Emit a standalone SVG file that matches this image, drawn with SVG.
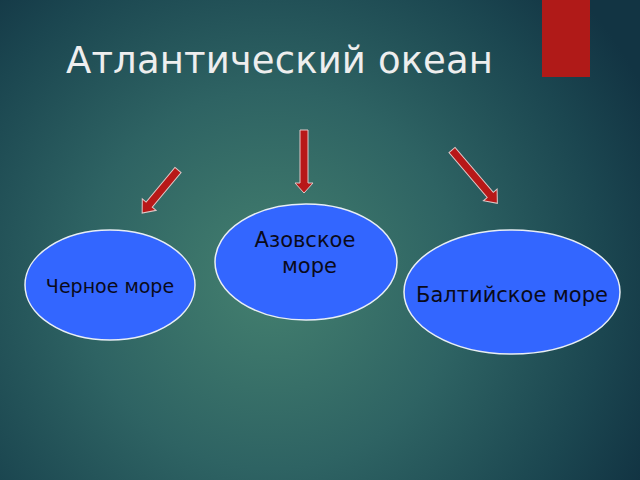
<svg xmlns="http://www.w3.org/2000/svg" width="640" height="480" viewBox="0 0 640 480">
<defs>
<radialGradient id="bg" cx="270" cy="280" r="420" gradientUnits="userSpaceOnUse">
<stop offset="0" stop-color="#44806f"/>
<stop offset="0.45" stop-color="#2e6363"/>
<stop offset="0.8" stop-color="#1b4650"/>
<stop offset="1" stop-color="#123443"/>
</radialGradient>
<style>
.node ellipse{fill:#3366ff;stroke:#e8eef5;stroke-width:1.5}
.lbl{font-family:"DejaVu Sans",sans-serif;fill:#0a0a1a;text-anchor:middle}
.arr{fill:#b81818;stroke:#e0c8c8;stroke-width:1}
</style>
</defs>
<rect width="640" height="480" fill="url(#bg)"/>
<rect x="542" y="0" width="48" height="77" fill="#b01a18"/>
<text x="66" y="73" font-family="'DejaVu Sans',sans-serif" font-size="37" fill="#eeeeee" textLength="427">Атлантический океан</text>
<g id="connectors">
<polygon class="arr" points="300,130 308,130 308,183 313,183 304,193 295,183 300,183"/>
<g transform="translate(178,170) rotate(39.8)">
<polygon class="arr" points="-4,0 4,0 4,45 9,45 0,56 -9,45 -4,45"/>
</g>
<g transform="translate(452,150) rotate(-40.4)">
<polygon class="arr" points="-4,0 4,0 4,59 9,59 0,70 -9,59 -4,59"/>
</g>
</g>
<g id="node-azov" class="node">
<ellipse cx="306" cy="262" rx="91" ry="58"/>
<text class="lbl" x="305" y="247" font-size="21">Азовское</text>
<text class="lbl" x="309.5" y="273" font-size="21">море</text>
</g>
<g id="node-black" class="node">
<ellipse cx="110" cy="285" rx="85" ry="55"/>
<text class="lbl" x="110" y="293" font-size="19" font-family="'Liberation Sans',Arial,sans-serif">Черное море</text>
</g>
<g id="node-baltic" class="node">
<ellipse cx="512" cy="292" rx="108" ry="62"/>
<text class="lbl" x="512" y="302" font-size="21">Балтийское море</text>
</g>
</svg>
